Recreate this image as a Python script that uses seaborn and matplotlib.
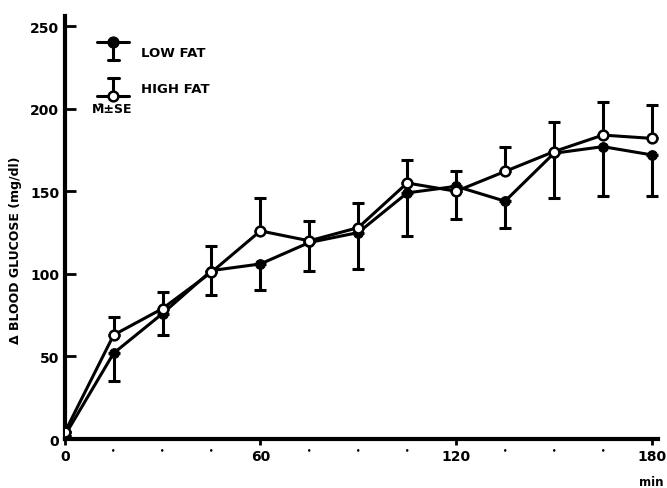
import matplotlib
matplotlib.use("Agg")
import matplotlib.pyplot as plt
import numpy as np
import pandas as pd
import seaborn as sns
from matplotlib.legend_handler import HandlerBase
from matplotlib.lines import Line2D
from matplotlib.ticker import FixedLocator, FixedFormatter


sns.set_theme(style="ticks")
plt.rcParams["font.family"] = ["DejaVu Sans"]
plt.rcParams["font.weight"] = "bold"
for key in ["text.color", "axes.labelcolor", "xtick.color", "ytick.color",
            "axes.edgecolor"]:
    plt.rcParams[key] = "black"

# Time after load [min]
minutes = [0, 15, 30, 45, 60, 75, 90, 105, 120, 135, 150, 165, 180]

# Mean rise in blood glucose [mg/dl]
low_fat = [2, 52, 76, 102, 106, 119, 125, 149, 153, 144, 173, 177, 172]
high_fat = [4, 63, 79, 101, 126, 120, 128, 155, 150, 162, 174, 184, 182]

# One-sided SE bars: low fat drawn downward, high fat drawn upward
low_fat_se = [0, 17, 13, 15, 16, 17, 22, 26, 20, 16, 27, 30, 25]
high_fat_se = [0, 11, 10, 16, 20, 12, 15, 14, 12, 15, 18, 20, 20]

df = pd.DataFrame(
    {
        "min": minutes * 2,
        "glucose": low_fat + high_fat,
        "diet": ["LOW FAT"] * len(minutes) + ["HIGH FAT"] * len(minutes),
    }
)

LW = 2.2
MS = 7


class OneSidedHandler(HandlerBase):
    """Legend key: line + marker with a one-sided error bar"""

    def __init__(self, face, down):
        super().__init__()
        self.face = face
        self.down = down

    def create_artists(self, legend, orig_handle, xdescent, ydescent,
                       width, height, fontsize, trans):
        yc = (height - ydescent) / 2
        half = 6.5
        y_mark = yc + half if self.down else yc - half
        y_cap = yc - half if self.down else yc + half
        x0, x1 = -xdescent, -xdescent + width
        xm = (x0 + x1) / 2
        line = Line2D([x0, x1], [y_mark, y_mark], color="black", lw=LW,
                      transform=trans)
        bar = Line2D([xm, xm], [y_mark, y_cap], color="black", lw=LW,
                     transform=trans)
        cap = Line2D([xm - 4, xm + 4], [y_cap, y_cap], color="black", lw=LW,
                     transform=trans)
        mark = Line2D([xm], [y_mark], marker="o", markersize=MS,
                      markerfacecolor=self.face, markeredgecolor="black",
                      markeredgewidth=1.8, linestyle="none", transform=trans)
        return [line, bar, cap, mark]


fig = plt.figure(figsize=(6.67, 4.89), dpi=100)
ax = fig.add_axes([0.097, 0.10, 0.89, 0.865])

# Error bars
zeros = np.zeros(len(minutes))
ax.errorbar(
    minutes, low_fat, yerr=[low_fat_se, zeros], fmt="none",
    ecolor="black", elinewidth=LW, capsize=4.5, capthick=LW, zorder=2,
)
ax.errorbar(
    minutes, high_fat, yerr=[zeros, high_fat_se], fmt="none",
    ecolor="black", elinewidth=LW, capsize=4.5, capthick=LW, zorder=2,
)

# Lines with markers
sns.lineplot(
    data=df[df["diet"] == "LOW FAT"], x="min", y="glucose", ax=ax,
    color="black", lw=LW, marker="o", markersize=MS,
    markerfacecolor="black", markeredgecolor="black", zorder=3, legend=False,
)
sns.lineplot(
    data=df[df["diet"] == "HIGH FAT"], x="min", y="glucose", ax=ax,
    color="black", lw=LW, marker="o", markersize=MS,
    markerfacecolor="white", markeredgecolor="black", markeredgewidth=1.8,
    zorder=3, legend=False,
)

# Legend
h_low = Line2D([], [])
h_high = Line2D([], [])
ax.legend(
    [h_low, h_high], ["LOW FAT", "HIGH FAT"], loc="upper left",
    bbox_to_anchor=(0.035, 0.958), frameon=False, handlelength=2.4,
    labelspacing=1.75, handletextpad=0.9,
    prop={"size": 9.5, "weight": "bold"},
    handler_map={h_low: OneSidedHandler("black", True),
                 h_high: OneSidedHandler("white", False)},
)
ax.text(0.045, 0.782, "M\u0304\u00b1SE", transform=ax.transAxes,
        fontsize=9, fontweight="bold", va="center")

# Axes
ax.set_xlim(0, 182)
ax.set_ylim(0, 256)
ax.set_xticks([0, 60, 120, 180])
ax.xaxis.set_minor_locator(FixedLocator([15, 30, 45, 75, 90, 105, 135, 150, 165]))
ax.xaxis.set_minor_formatter(FixedFormatter(["\u2022"] * 9))
ax.tick_params(axis="x", which="minor", length=0, pad=5, labelsize=5)
ax.tick_params(axis="x", which="major", length=4, width=2, direction="out",
               labelsize=10, pad=3)
ax.set_yticks([0, 50, 100, 150, 200, 250])
ax.tick_params(axis="y", which="major", length=8, width=2, direction="in",
               labelsize=10, pad=4)
for lab in ax.get_xticklabels() + ax.get_yticklabels():
    lab.set_fontweight("bold")

sns.despine(ax=ax)
ax.spines["left"].set_linewidth(3)
ax.spines["bottom"].set_linewidth(3)

ax.set_ylabel("\u0394 BLOOD GLUCOSE (mg/dl)", fontsize=9, fontweight="bold")
ax.yaxis.set_label_coords(-0.072, 0.45)
ax.set_xlabel("min", fontsize=8.5, fontweight="bold", loc="right")
ax.xaxis.set_label_coords(1.008, -0.085)

fig.savefig("out.png", dpi=100, facecolor="white")
